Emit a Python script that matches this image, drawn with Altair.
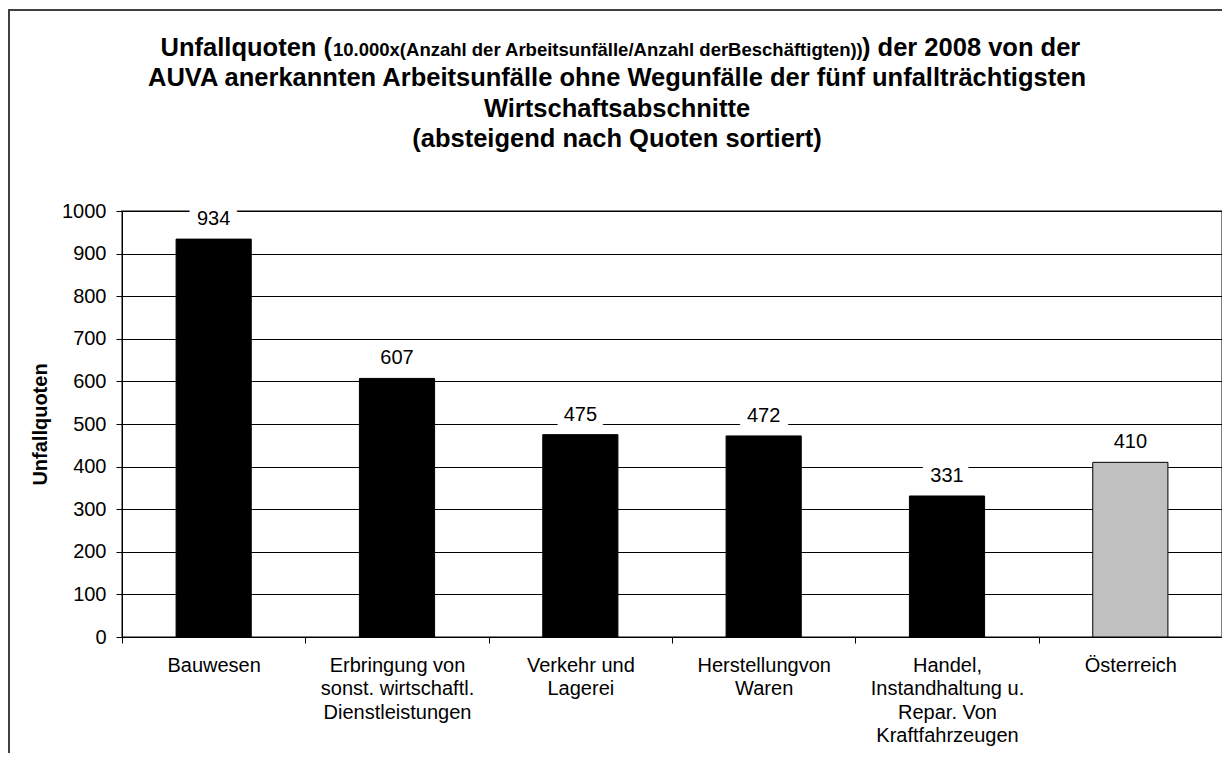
import altair as alt
import pandas as pd

# ---- data ----
categories = [
    "Bauwesen",
    "Erbringung von|sonst. wirtschaftl.|Dienstleistungen",
    "Verkehr und|Lagerei",
    "Herstellungvon|Waren",
    "Handel,|Instandhaltung u.|Repar. Von|Kraftfahrzeugen",
    "Österreich",
]
quoten = [934, 607, 475, 472, 331, 410]
gruppen = ["Wirtschaftsabschnitt"] * 5 + ["Österreich gesamt"]
gruppen_domain = ["Wirtschaftsabschnitt", "Österreich gesamt"]
gruppen_farben = ["#000000", "#C0C0C0"]
y_ticks = [0, 100, 200, 300, 400, 500, 600, 700, 800, 900, 1000]

title_l1_a = "Unfallquoten ("
title_l1_b = "10.000x(Anzahl der Arbeitsunfälle/Anzahl derBeschäftigten))"
title_l1_c = ") der 2008 von der"
title_rest = [
    "AUVA anerkannten Arbeitsunfälle ohne Wegunfälle  der fünf unfallträchtigsten",
    "Wirtschaftsabschnitte",
    "(absteigend nach Quoten sortiert)",
]
y_title = "Unfallquoten"

FONT = "Liberation Sans"

df = pd.DataFrame({"kategorie": categories, "quote": quoten, "gruppe": gruppen})

x_enc = alt.X(
    "kategorie:N",
    sort=categories,
    title=None,
    scale=alt.Scale(paddingInner=0, paddingOuter=0),
    axis=alt.Axis(
        labelAngle=0,
        labelExpr="split(datum.label, '|')",
        labelLineHeight=23.5,
        labelFontSize=20,
        labelFont=FONT,
        labelColor="#000000",
        labelPadding=12,
        labelLimit=0,
        tickBand="extent",
        tickSize=6,
        tickColor="#000000",
        domainColor="#000000",
        grid=False,
    ),
)
x_plain = alt.X("kategorie:N", sort=categories)
y_enc = alt.Y(
    "quote:Q",
    scale=alt.Scale(domain=[0, 1000], nice=False),
    axis=alt.Axis(
        values=y_ticks,
        format="d",
        title=y_title,
        titleFont=FONT,
        titleFontSize=20,
        titleFontWeight="bold",
        titleColor="#000000",
        titlePadding=11,
        labelFont=FONT,
        labelFontSize=20,
        labelColor="#000000",
        labelPadding=10,
        tickSize=6,
        tickColor="#000000",
        domainColor="#000000",
        grid=True,
        gridColor="#000000",
        gridWidth=1,
    ),
)

base = alt.Chart(df)

bars = base.mark_bar(
    width=alt.RelativeBandSize(0.41), stroke="#000000", strokeWidth=1
).encode(
    x=x_enc,
    y=y_enc,
    color=alt.Color(
        "gruppe:N",
        scale=alt.Scale(domain=gruppen_domain, range=gruppen_farben),
        legend=None,
    ),
)

halo = base.mark_text(
    font=FONT, fontSize=20, baseline="alphabetic", dy=-14,
    stroke="#ffffff", strokeWidth=18, strokeJoin="round", fill="#ffffff",
).encode(x=x_plain, y="quote:Q", text="quote:Q")

labels = base.mark_text(
    font=FONT, fontSize=20, baseline="alphabetic", dy=-14, color="#000000",
).encode(x=x_plain, y="quote:Q", text="quote:Q")

deco = alt.Chart(alt.Data(values=[{"k": 0}]))

frame_left = deco.mark_rule(color="#404040", strokeWidth=2).encode(
    x=alt.value(-113), y=alt.value(-201), y2=alt.value(600)
)
frame_top = deco.mark_rule(color="#404040", strokeWidth=2).encode(
    x=alt.value(-114), x2=alt.value(1200), y=alt.value(-201)
)

t1a = deco.mark_text(
    text=title_l1_a, font=FONT, fontSize=25.5, fontWeight="bold",
    align="right", baseline="alphabetic", color="#000000",
).encode(x=alt.value(210), y=alt.value(-155))
t1b = deco.mark_text(
    text=title_l1_b, font=FONT, fontSize=18.5, fontWeight="bold",
    align="left", baseline="alphabetic", color="#000000",
).encode(x=alt.value(211), y=alt.value(-155))
t1c = deco.mark_text(
    text=title_l1_c, font=FONT, fontSize=25.5, fontWeight="bold",
    align="left", baseline="alphabetic", color="#000000",
).encode(x=alt.value(740), y=alt.value(-155))
t_rest = deco.mark_text(
    text=title_rest, font=FONT, fontSize=25.5, fontWeight="bold",
    align="center", baseline="alphabetic", lineHeight=30.5, color="#000000",
).encode(x=alt.value(495), y=alt.value(-125))

chart = (
    alt.layer(bars, halo, labels, frame_left, frame_top, t1a, t1b, t1c, t_rest)
    .properties(
        width=1100,
        height=426,
        autosize=alt.AutoSizeParams(type="none"),
        padding={"left": 114, "top": 203, "right": 0, "bottom": 116},
        background="#ffffff",
    )
    .configure_view(stroke="#808080", strokeWidth=2)
)

chart.save("out.html", embed_options={"renderer": "svg", "actions": False})
